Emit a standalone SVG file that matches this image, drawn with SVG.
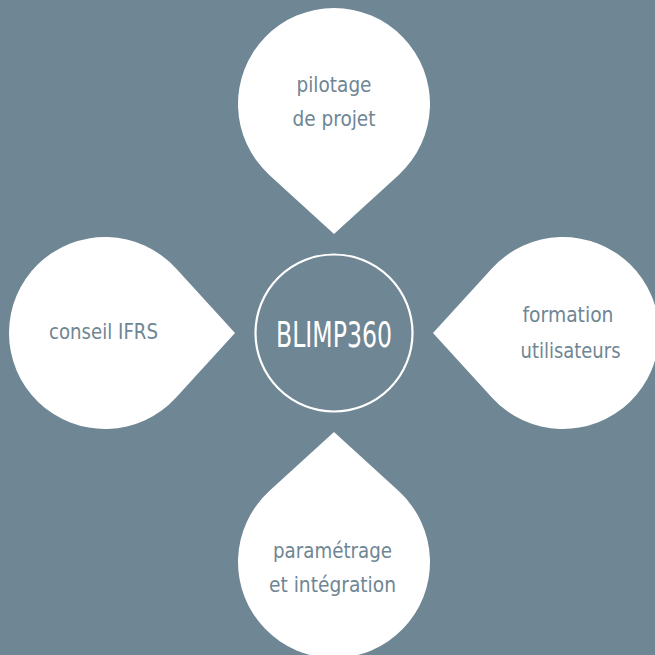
<svg xmlns="http://www.w3.org/2000/svg" width="655" height="655" viewBox="0 0 655 655">
<style>
.drop{fill:#ffffff;}
.lbl{font-family:"Liberation Sans Narrow","DejaVu Sans Condensed","Roboto Condensed",sans-serif;font-stretch:condensed;font-size:22px;fill:#6f8694;text-anchor:middle;}
.hub{fill:none;stroke:#ffffff;stroke-width:2.2;}
.hubt{font-family:"Liberation Sans Narrow","DejaVu Sans Condensed","Roboto Condensed",sans-serif;font-stretch:condensed;font-size:35px;fill:#ffffff;text-anchor:middle;}
</style>
<rect width="655" height="655" fill="#6f8694"/>
<g id="connectors"></g>
<g id="hub">
<circle class="hub" cx="334" cy="333" r="78.5"/>
<text class="hubt" x="334" y="346.5" textLength="116" lengthAdjust="spacingAndGlyphs">BLIMP360</text>
</g>
<g id="node-pilotage">
<path class="drop" d="M334 234 L269.3 174.9 A96 96 0 1 1 398.7 174.9 Z"/>
<text class="lbl" x="334" y="92" textLength="75" lengthAdjust="spacingAndGlyphs">pilotage</text>
<text class="lbl" x="334" y="126" textLength="83" lengthAdjust="spacingAndGlyphs">de projet</text>
</g>
<g id="node-conseil">
<path class="drop" d="M235 333 L175.9 397.7 A96 96 0 1 1 175.9 268.3 Z"/>
<text class="lbl" x="103.5" y="339" textLength="109" lengthAdjust="spacingAndGlyphs">conseil IFRS</text>
</g>
<g id="node-formation">
<path class="drop" d="M433 333 L492.1 268.3 A96 96 0 1 1 492.1 397.7 Z"/>
<text class="lbl" x="568" y="321.5" textLength="91" lengthAdjust="spacingAndGlyphs">formation</text>
<text class="lbl" x="570.5" y="357.5" textLength="100" lengthAdjust="spacingAndGlyphs">utilisateurs</text>
</g>
<g id="node-parametrage">
<path class="drop" d="M334 432 L398.7 491.1 A96 96 0 1 1 269.3 491.1 Z"/>
<text class="lbl" x="332.5" y="557.5" textLength="119" lengthAdjust="spacingAndGlyphs">paramétrage</text>
<text class="lbl" x="332.5" y="591.5" textLength="127" lengthAdjust="spacingAndGlyphs">et intégration</text>
</g>
</svg>
